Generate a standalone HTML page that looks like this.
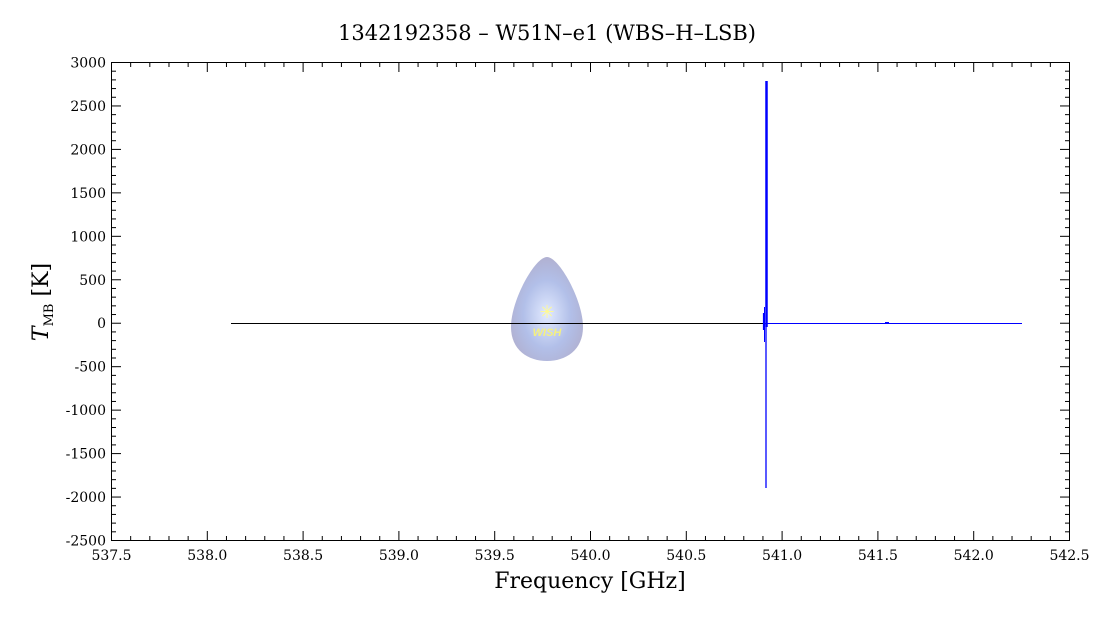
<!DOCTYPE html>
<html><head><meta charset="utf-8"><style>
html,body{margin:0;padding:0;background:#fff;}
svg{display:block;font-family:"DejaVu Serif","Liberation Serif",serif;}
</style></head><body>
<svg id="s" width="1095" height="618" viewBox="0 0 1095 618" xmlns="http://www.w3.org/2000/svg">
<defs>
<radialGradient id="g" cx="0.5" cy="0.55" r="0.55">
<stop offset="0" stop-color="#dfe8ff"/><stop offset="0.6" stop-color="#a9b8e6"/><stop offset="1" stop-color="#a8a8cc"/>
</radialGradient>
</defs>
<text x="547" y="40" text-anchor="middle" font-size="21">1342192358 – W51N–e1 (WBS–H–LSB)</text>
<path d="M547 257 C535 257 511 300 511 327 C511 350 528 361 547 361 C566 361 583 350 583 327 C583 300 559 257 547 257 Z" fill="url(#g)" opacity="0.9"/>
<text x="547" y="336" text-anchor="middle" font-size="11" fill="#f4f080" font-style="italic" font-weight="bold" font-family="Liberation Sans,sans-serif">WISH</text>
<text x="547" y="318" text-anchor="middle" font-size="18" fill="#fffa90">✳</text>
<g id="ax" stroke="#000" stroke-width="1"></g>
<line x1="231" y1="323.5" x2="763" y2="323.5" stroke="#000" stroke-width="1"/>
<line x1="763" y1="323.5" x2="1022" y2="323.5" stroke="#00f" stroke-width="1"/>
<line x1="766.5" y1="81" x2="766.5" y2="327" stroke="#00f" stroke-width="2.5"/>
<line x1="766" y1="323" x2="766" y2="488" stroke="#00f" stroke-width="1.3"/>
<line x1="764.5" y1="307" x2="764.5" y2="342" stroke="#00f" stroke-width="1"/>
<line x1="763.5" y1="313" x2="763.5" y2="330" stroke="#00f" stroke-width="1.2"/>
<line x1="885" y1="322.5" x2="889" y2="322.5" stroke="#00f" stroke-width="1"/>
<text x="590" y="588" text-anchor="middle" font-size="22">Frequency [GHz]</text>
<text transform="translate(48,302) rotate(-90)" text-anchor="middle" font-size="22"><tspan font-style="italic">T</tspan><tspan font-size="13" dy="5">MB</tspan><tspan dy="-5"> [K]</tspan></text>
</svg>
<script>
var L=111,R=1070,T=62,B=541,ax=document.getElementById('ax'),s=document.getElementById('s');
function ln(a,b,c,d){var e=document.createElementNS('http://www.w3.org/2000/svg','line');e.setAttribute('x1',a);e.setAttribute('y1',b);e.setAttribute('x2',c);e.setAttribute('y2',d);ax.appendChild(e);}
function tx(x,y,t,a){var e=document.createElementNS('http://www.w3.org/2000/svg','text');e.setAttribute('x',x);e.setAttribute('y',y);e.setAttribute('text-anchor',a);e.setAttribute('font-size','14');e.textContent=t;s.appendChild(e);}
var r=document.createElementNS('http://www.w3.org/2000/svg','rect');r.setAttribute('x',L+.5);r.setAttribute('y',T+.5);r.setAttribute('width',R-L-1);r.setAttribute('height',B-T-1);r.setAttribute('fill','none');ax.appendChild(r);
for(var i=0;i<=50;i++){var x=L+.5+(R-L-1)*i/50,m=i%5==0,l=m?10:5;ln(x,B,x,B-l);ln(x,T,x,T+l);if(m)tx(x,B+19,(537.5+i*0.1).toFixed(1),'middle');}
for(var i=0;i<=55;i++){var y=B-.5-(B-T-1)*i/55,m=i%5==0,l=m?10:5;ln(L,y,L+l,y);ln(R,y,R-l,y);if(m)tx(L-5,y+5,String(-2500+i*100),'end');}
</script>
</body></html>
